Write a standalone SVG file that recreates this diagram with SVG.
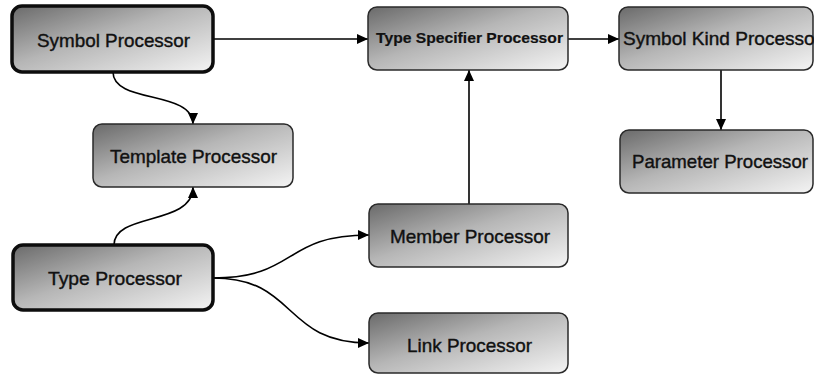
<svg xmlns="http://www.w3.org/2000/svg" width="814" height="375" viewBox="0 0 814 375">
  <defs>
    <linearGradient id="fillGrad" x1="0" y1="0" x2="1" y2="1">
      <stop offset="0" stop-color="#6a6a6a"/>
      <stop offset="0.45" stop-color="#b6b6b6"/>
      <stop offset="1" stop-color="#f4f4f4"/>
    </linearGradient>
    <marker id="arrow" markerUnits="userSpaceOnUse" markerWidth="12" markerHeight="10" refX="11" refY="5" orient="auto">
      <path d="M0,0 L11,5 L0,10 Z" fill="#000"/>
    </marker>
    <style>
      .box { fill: url(#fillGrad); stroke: #2a2a2a; stroke-width: 1.5; }
      .box.main { stroke: #0d0d0d; stroke-width: 3.5; }
      .label { font-family: "Liberation Sans", Arial, sans-serif; font-size: 19px; fill: #111; stroke: #111; stroke-width: 0.4; text-anchor: middle; }
      .label.small { font-size: 15.5px; font-weight: bold; stroke-width: 0.2; }
      .edge { fill: none; stroke: #000; stroke-width: 1.6; marker-end: url(#arrow); }
    </style>
  </defs>
  <rect width="814" height="375" fill="#fff"/>

  <g id="connectors">
    <path class="edge" d="M213,39 L368,39"/>
    <path class="edge" d="M568,39 L619,39"/>
    <path class="edge" d="M721,70 L721,130"/>
    <path class="edge" d="M469,204 L469,70"/>
    <path class="edge" d="M113,72 C113,104 193,90 193,124"/>
    <path class="edge" d="M114,245 C114,212 193,226 193,187"/>
    <path class="edge" d="M213,278 C298,278 282,235 369,235"/>
    <path class="edge" d="M213,278 C298,278 282,343 369,343"/>
  </g>

  <g id="symbol-processor">
    <rect class="box main" x="12" y="6" width="201" height="66" rx="10"/>
    <text class="label" x="113.5" y="47" textLength="153" lengthAdjust="spacingAndGlyphs">Symbol Processor</text>
  </g>
  <g id="template-processor">
    <rect class="box" x="93" y="124" width="200" height="63" rx="9"/>
    <text class="label" x="193.5" y="163" textLength="167" lengthAdjust="spacingAndGlyphs">Template Processor</text>
  </g>
  <g id="type-processor">
    <rect class="box main" x="13" y="245" width="200" height="65" rx="10"/>
    <text class="label" x="115" y="285" textLength="134" lengthAdjust="spacingAndGlyphs">Type Processor</text>
  </g>
  <g id="type-specifier-processor">
    <rect class="box" x="368" y="7" width="200" height="63" rx="9"/>
    <text class="label small" x="469.5" y="43" textLength="187" lengthAdjust="spacingAndGlyphs">Type Specifier Processor</text>
  </g>
  <g id="symbol-kind-processor">
    <rect class="box" x="619" y="7" width="194" height="63" rx="9"/>
    <text class="label" x="623" y="45" style="text-anchor:start" textLength="198" lengthAdjust="spacingAndGlyphs">Symbol Kind Processor</text>
  </g>
  <g id="parameter-processor">
    <rect class="box" x="620" y="130" width="193" height="63" rx="9"/>
    <text class="label" x="720" y="168" textLength="176" lengthAdjust="spacingAndGlyphs">Parameter Processor</text>
  </g>
  <g id="member-processor">
    <rect class="box" x="369" y="204" width="199" height="63" rx="9"/>
    <text class="label" x="470" y="243" textLength="160" lengthAdjust="spacingAndGlyphs">Member Processor</text>
  </g>
  <g id="link-processor">
    <rect class="box" x="369" y="313" width="199" height="60" rx="9"/>
    <text class="label" x="469.5" y="352" textLength="125" lengthAdjust="spacingAndGlyphs">Link Processor</text>
  </g>
</svg>
